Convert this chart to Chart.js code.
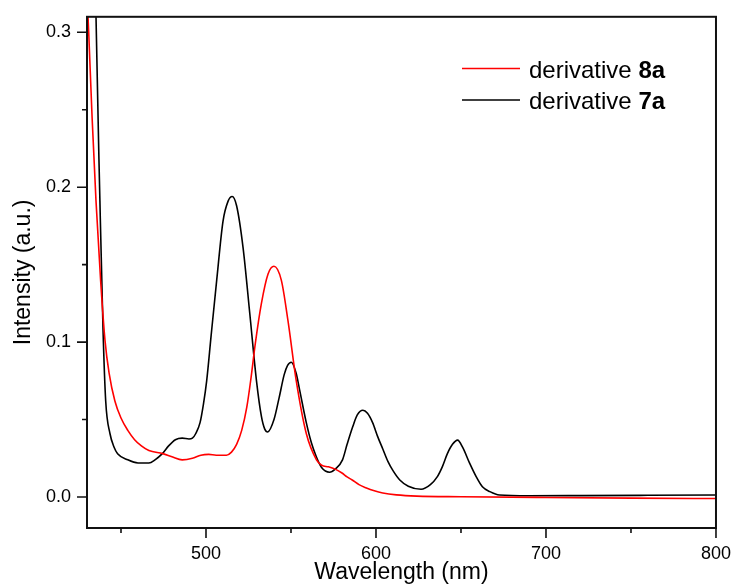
<!DOCTYPE html>
<html>
<head>
<meta charset="utf-8">
<script src="https://cdn.jsdelivr.net/npm/chart.js@4/dist/chart.umd.min.js"></script>
<style>
html,body{margin:0;padding:0;background:#fff;}
#wrap{width:736px;height:587px;position:relative;}
</style>
</head>
<body>
<div id="wrap"><canvas id="c"></canvas></div>
<script>
// ---- data ----
const wl8a  = [430,431,433,435.3,438,440.6,443,446.4,450,454,458,462,466.4,474.6,480,486,492,497,501.6,506,512,515,518,521,524,526.5,529,532.6,536.5,540,544.3,548.2,553.1,559,565,568,572,576,580,583,586,590,594,599,604,612,624,650,700,750,800];
const int8a = [0.325,0.30,0.245,0.191,0.14,0.101,0.08,0.062,0.051,0.043,0.037,0.033,0.030,0.028,0.026,0.024,0.025,0.027,0.0275,0.027,0.027,0.029,0.034,0.043,0.058,0.077,0.099,0.125,0.144,0.149,0.140,0.114,0.075,0.041,0.024,0.0205,0.0195,0.018,0.0155,0.013,0.011,0.008,0.006,0.004,0.0026,0.0014,0.0006,0.0002,-0.0003,-0.0007,-0.001];

const wl7a  = [430,433,435.3,437.6,439.4,441,443.5,446,448,454,460,466.4,470,474.3,478,482,486,490,492,494,496.5,498.5,500.4,503,506.3,510,513,515.4,518,521.8,525.8,529.7,532.6,534.5,536.3,540,543,546,548,550.2,553,555.1,559,562,564.9,568,572.7,576,580.3,583,586.2,589,592.3,595,598,601,604,607,610,614,619,626.5,632,636,639,642,645,648,651,655,659,662.6,667,672.6,690,720,760,800];
const int7a = [0.7,0.5,0.31,0.191,0.109,0.062,0.041,0.032,0.028,0.024,0.022,0.022,0.024,0.028,0.033,0.037,0.038,0.0375,0.038,0.041,0.048,0.06,0.075,0.104,0.140,0.178,0.191,0.194,0.188,0.161,0.118,0.075,0.052,0.044,0.042,0.050,0.064,0.079,0.085,0.087,0.080,0.069,0.048,0.035,0.026,0.019,0.016,0.018,0.024,0.034,0.045,0.053,0.056,0.054,0.048,0.039,0.031,0.023,0.017,0.011,0.007,0.005,0.008,0.013,0.0195,0.028,0.034,0.0367,0.032,0.022,0.013,0.0066,0.0035,0.0013,0.0008,0.0009,0.0011,0.0013];

const xMajor = [500,600,700,800];
const xMinor = [450,550,650,750];
const yMajor = [0.0,0.1,0.2,0.3];
const yMinor = [0.05,0.15,0.25];
const seriesNames = ['derivative ', 'derivative '];
const seriesBold = ['8a', '7a'];
const seriesColors = ['#ff0000', '#000000'];

const FONT = '"Liberation Sans", Arial, sans-serif';

const toPts = (xs, ys) => xs.map((x, i) => ({x: x, y: ys[i]}));

const framePlugin = {
  id: 'frame',
  afterDatasetsDraw(chart) {
    const ctx = chart.ctx;
    const a = chart.chartArea;
    const xs = chart.scales.x, ys = chart.scales.y;
    ctx.save();
    ctx.strokeStyle = '#111';
    ctx.lineWidth = 2;
    ctx.strokeRect(a.left, a.top, a.right - a.left, a.bottom - a.top);
    ctx.lineWidth = 1.6;
    ctx.beginPath();
    xMajor.forEach(v => { const p = xs.getPixelForValue(v); ctx.moveTo(p, a.bottom); ctx.lineTo(p, a.bottom + 10); });
    xMinor.forEach(v => { const p = xs.getPixelForValue(v); ctx.moveTo(p, a.bottom); ctx.lineTo(p, a.bottom + 5); });
    yMajor.forEach(v => { const p = ys.getPixelForValue(v); ctx.moveTo(a.left, p); ctx.lineTo(a.left - 10, p); });
    yMinor.forEach(v => { const p = ys.getPixelForValue(v); ctx.moveTo(a.left, p); ctx.lineTo(a.left - 5, p); });
    ctx.stroke();

    // legend
    const lx0 = 462, lx1 = 520, tx = 529;
    const rows = [68.5, 100];
    rows.forEach((ly, i) => {
      ctx.strokeStyle = seriesColors[i];
      ctx.lineWidth = 1.6;
      ctx.beginPath(); ctx.moveTo(lx0, ly); ctx.lineTo(lx1, ly); ctx.stroke();
      ctx.fillStyle = '#000';
      ctx.textBaseline = 'alphabetic';
      ctx.textAlign = 'left';
      ctx.font = '24px ' + FONT;
      ctx.fillText(seriesNames[i], tx, ly + 9);
      const w = ctx.measureText(seriesNames[i]).width;
      ctx.font = 'bold 24px ' + FONT;
      ctx.fillText(seriesBold[i], tx + w, ly + 9);
    });
    ctx.restore();
  }
};

new Chart(document.getElementById('c'), {
  type: 'line',
  data: {
    datasets: [
      { label: 'derivative 8a', data: toPts(wl8a, int8a), borderColor: seriesColors[0], borderWidth: 1.6, pointRadius: 0, cubicInterpolationMode: 'monotone', fill: false },
      { label: 'derivative 7a', data: toPts(wl7a, int7a), borderColor: seriesColors[1], borderWidth: 1.6, pointRadius: 0, cubicInterpolationMode: 'monotone', fill: false }
    ]
  },
  options: {
    responsive: true,
    maintainAspectRatio: false,
    devicePixelRatio: 1,
    animation: false,
    layout: { padding: { top: 15, right: 19, left: 0, bottom: 0 } },
    plugins: { legend: { display: false }, tooltip: { enabled: false } },
    scales: {
      x: {
        type: 'linear', min: 430, max: 800,
        afterBuildTicks: s => { s.ticks = xMajor.map(v => ({value: v})); },
        afterFit: s => { s.height = 59; },
        grid: { display: true, drawOnChartArea: false, drawTicks: true, tickLength: 10, color: 'rgba(0,0,0,0)' },
        border: { display: false },
        ticks: { color: '#000', font: { family: FONT, size: 18 }, padding: 5, maxRotation: 0, callback: v => String(v) },
        title: { display: true, text: 'Wavelength (nm)', color: '#000', font: { family: FONT, size: 23 }, padding: { top: 0, bottom: 1 } }
      },
      y: {
        type: 'linear', min: -0.02, max: 0.31,
        afterBuildTicks: s => { s.ticks = yMajor.map(v => ({value: v})); },
        afterFit: s => { s.width = 87; },
        grid: { display: true, drawOnChartArea: false, drawTicks: true, tickLength: 10, color: 'rgba(0,0,0,0)' },
        border: { display: false },
        ticks: { color: '#000', font: { family: FONT, size: 18 }, padding: 6, callback: v => Number(v).toFixed(1) },
        title: { display: true, text: 'Intensity (a.u.)', color: '#000', font: { family: FONT, size: 23 }, padding: { top: 10, bottom: 0 } }
      }
    }
  },
  plugins: [framePlugin]
});
</script>
</body>
</html>
